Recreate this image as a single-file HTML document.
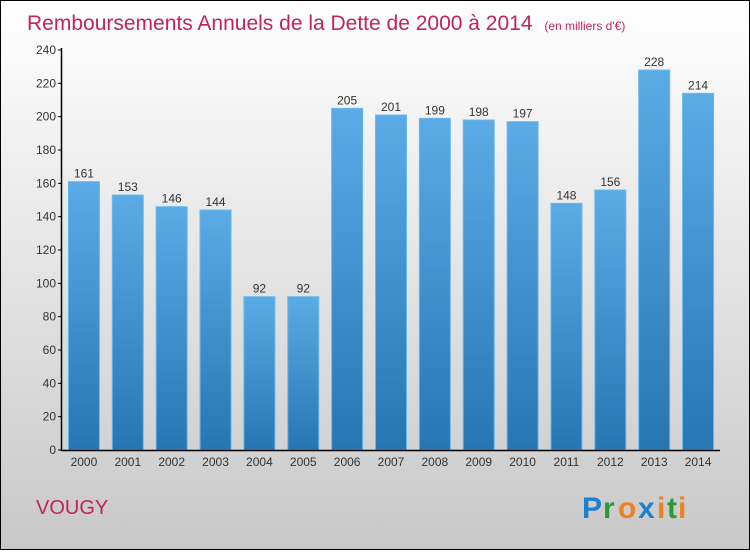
<!DOCTYPE html>
<html><head><meta charset="utf-8"><style>
body{margin:0;width:750px;height:550px;overflow:hidden;font-family:"Liberation Sans",sans-serif}
</style></head><body>
<svg width="750" height="550" viewBox="0 0 750 550">
<defs>
<linearGradient id="bg" x1="0" y1="0" x2="0" y2="1"><stop offset="0" stop-color="#ffffff"/><stop offset="1" stop-color="#c8c8c8"/></linearGradient>
<linearGradient id="bar" x1="0" y1="0" x2="0" y2="1"><stop offset="0" stop-color="#5aabe6"/><stop offset="1" stop-color="#2676b3"/></linearGradient>
</defs>
<rect x="0.5" y="0.5" width="749" height="549" fill="url(#bg)" stroke="#000"/>
<text x="27" y="30" font-size="21" fill="#c0245a">Remboursements Annuels de la Dette de 2000 à 2014 <tspan font-size="12" dx="6">(en milliers d'€)</tspan></text>
<g id="plot"></g>
<text x="36" y="514" font-size="20" fill="#c0245a">VOUGY</text>
<g font-size="30" font-weight="bold">
<text x="582" y="518" fill="#1e7fd0">P</text><text x="603" y="518" fill="#2a9a3a">r</text><text x="618" y="518" fill="#f08020">o</text><text x="638" y="518" fill="#1e7fd0">x</text><text x="657" y="518" fill="#f08020">i</text><text x="667" y="518" fill="#2a9a3a">t</text><text x="678" y="518" fill="#f08020">i</text>
</g>
</svg>
<script>
const categories=["2000","2001","2002","2003","2004","2005","2006","2007","2008","2009","2010","2011","2012","2013","2014"];
const values=[161,153,146,144,92,92,205,201,199,198,197,148,156,228,214];
const yTicks=[0,20,40,60,80,100,120,140,160,180,200,220,240];
const NS="http://www.w3.org/2000/svg";
const g=document.getElementById("plot");
const x0=62,x1=720,y0=450,yTop=50,yMax=240;
const band=(x1-x0)/categories.length;
const y=v=>y0-(v/yMax)*(y0-yTop);
const xc=i=>x0+band*(i+0.5);
function mk(t,a){const e=document.createElementNS(NS,t);for(const k in a)e.setAttribute(k,a[k]);g.appendChild(e);return e;}
yTicks.forEach(t=>{
 const l=mk("line",{x1:x0-4,x2:x0,y1:y(t),y2:y(t),stroke:"#000"});
 
 
 const tx=mk("text",{x:x0-6,y:y(t)+4,"font-size":12,"text-anchor":"end",fill:"#333"});
 tx.textContent=t;
 
 
});
values.forEach((v,i)=>{
 const r=mk("rect",{x:xc(i)-15.5,y:y(v),width:31,height:y0-y(v),fill:"url(#bar)",stroke:"#6ab8ee","stroke-width":1});
 
 
 const t=mk("text",{x:xc(i),y:y(v)-4,"font-size":12,"text-anchor":"middle",fill:"#333"});
 t.textContent=v;
 
 
 const c=mk("text",{x:xc(i),y:y0+16,"font-size":12,"text-anchor":"middle",fill:"#333"});
 c.textContent=categories[i];
 
 
});
const ya=mk("line",{x1:x0-0.5,x2:x0-0.5,y1:yTop-2,y2:y0+1,stroke:"#000","stroke-width":1.5});


const xa=mk("line",{x1:x0-1,x2:x1,y1:y0+0.5,y2:y0+0.5,stroke:"#000","stroke-width":1.5});


</script>
</body></html>
